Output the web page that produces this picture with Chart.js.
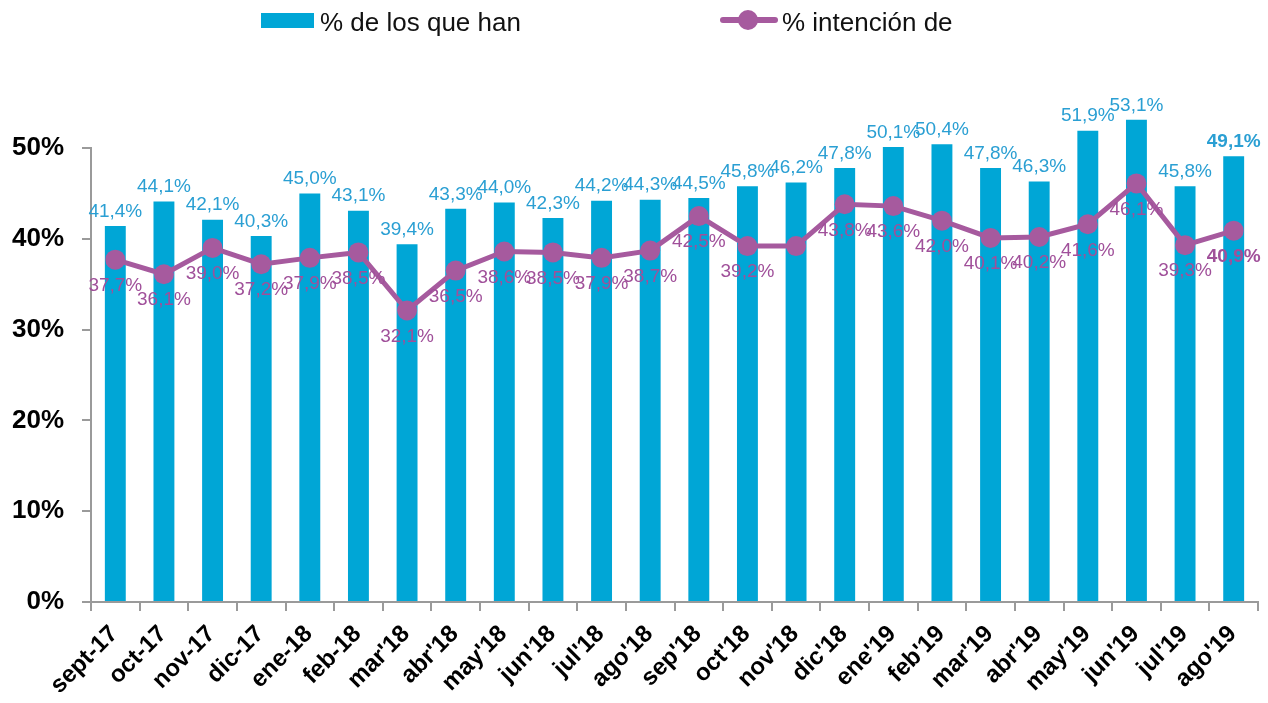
<!DOCTYPE html>
<html>
<head>
<meta charset="utf-8">
<script src="https://cdn.jsdelivr.net/npm/chart.js@4/dist/chart.umd.min.js"></script>
<style>
  body { margin: 0; background: #fff; font-family: "Liberation Sans", Arial, sans-serif; }
  #wrap { position: relative; width: 1268px; height: 703px; overflow: hidden; }
  #chart { position: absolute; left: 0; top: 0; }
  .leg { position: absolute; top: 6px; font-size: 26px; color: #111; white-space: nowrap; line-height: 32px; }
  .sw { position: absolute; }
</style>
</head>
<body>
<div id="wrap">
  <canvas id="chart" width="1268" height="703"></canvas>
  <div class="sw" style="left:261px;top:13px;width:53px;height:15px;background:#00A6D6"></div>
  <div class="leg" style="left:320px">% de los que han</div>
  <div class="sw" style="left:720px;top:17px;width:58px;height:6px;border-radius:3px;background:#A65A9E"></div>
  <div class="sw" style="left:738px;top:10px;width:20px;height:20px;border-radius:50%;background:#A65A9E"></div>
  <div class="leg" style="left:782px">% intención de</div>
</div>
<script>
const months = ["sept-17","oct-17","nov-17","dic-17","ene-18","feb-18","mar'18","abr'18","may'18","jun'18","jul'18","ago'18",
  "sep'18","oct'18","nov'18","dic'18","ene'19","feb'19","mar'19","abr'19","may'19","jun'19","jul'19","ago'19"];
const han = [41.4,44.1,42.1,40.3,45.0,43.1,39.4,43.3,44.0,42.3,44.2,44.3,44.5,45.8,46.2,47.8,50.1,50.4,47.8,46.3,51.9,53.1,45.8,49.1];
const intencion = [37.7,36.1,39.0,37.2,37.9,38.5,32.1,36.5,38.6,38.5,37.9,38.7,42.5,39.2,39.2,43.8,43.6,42.0,40.1,40.2,41.6,46.1,39.3,40.9];
const yTicks = [0,10,20,30,40,50];
const hiddenLineLabels = [14];

const BLUE = '#00A6D6', PURPLE = '#A65A9E';
const FONT = '"Liberation Sans", Arial, sans-serif';
const fmt = v => v.toFixed(1).replace('.', ',') + '%';

const valueLabels = {
  id: 'valueLabels',
  afterDatasetsDraw(chart){
    const ctx = chart.ctx;
    const last = months.length - 1;
    ctx.save();
    ctx.textAlign = 'center';
    chart.getDatasetMeta(0).data.forEach((el, i) => {
      ctx.font = (i === last ? 'bold ' : '') + '19px ' + FONT;
      ctx.fillStyle = '#2A9FD3';
      ctx.textBaseline = 'bottom';
      ctx.fillText(fmt(han[i]), el.x, el.y - 5);
    });
    chart.getDatasetMeta(1).data.forEach((el, i) => {
      if(hiddenLineLabels.includes(i)) return;
      ctx.font = (i === last ? 'bold ' : '') + '19px ' + FONT;
      ctx.fillStyle = '#A0509A';
      ctx.textBaseline = 'middle';
      ctx.fillText(fmt(intencion[i]), el.x, el.y + 26);
    });
    ctx.restore();
  }
};

new Chart(document.getElementById('chart'), {
  data: {
    labels: months,
    datasets: [
      { type: 'bar', label: '% de los que han', data: han, backgroundColor: BLUE,
        barPercentage: 0.43, categoryPercentage: 1, order: 2, clip: false },
      { type: 'line', label: '% intención de', data: intencion, borderColor: PURPLE, borderWidth: 5,
        pointRadius: 10, pointBackgroundColor: PURPLE, pointBorderWidth: 0, tension: 0, order: 1, clip: false }
    ]
  },
  options: {
    responsive: false,
    animation: false,
    layout: { padding: { top: 148, right: 5, left: 0, bottom: 0 } },
    plugins: { legend: { display: false }, tooltip: { enabled: false } },
    scales: {
      x: {
        grid: { display: true, drawOnChartArea: false, color: '#9a9a9a', tickLength: 9, lineWidth: 2 },
        border: { color: '#9a9a9a', width: 2 },
        ticks: { color: '#000', font: { family: FONT, size: 24, weight: 'bold' },
          maxRotation: 45, minRotation: 45, padding: 9, labelOffset: -1 },
        afterFit: s => { s.height = 101; }
      },
      y: {
        min: 0, max: 50,
        afterBuildTicks: s => { s.ticks = yTicks.map(v => ({ value: v })); },
        grid: { display: true, drawOnChartArea: false, color: '#9a9a9a', tickLength: 9, lineWidth: 2 },
        border: { color: '#9a9a9a', width: 2 },
        ticks: { color: '#000', font: { family: FONT, size: 26, weight: 'bold' }, padding: 18,
          callback: v => v + '%' },
        afterFit: s => { s.width = 91; }
      }
    }
  },
  plugins: [valueLabels]
});
</script>
</body>
</html>
